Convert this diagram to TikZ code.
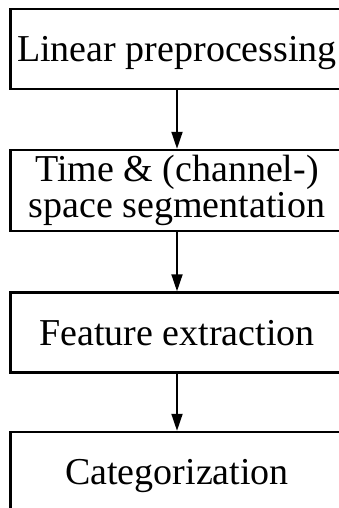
\documentclass[tikz,border=0pt]{standalone}
\usepackage{fontspec}
\setmainfont{Liberation Serif}
\usetikzlibrary{arrows.meta}
\begin{document}
\begin{tikzpicture}[x=1pt,y=-1pt,
  box/.style={draw=black, line width=2.4pt, minimum width=333pt, minimum height=80pt,
    inner sep=0pt, font=\fontsize{38}{36}\selectfont, text height=25pt, text depth=0pt, align=center},
  flow/.style={line width=1.8pt, -{Triangle[length=17pt,width=11pt]}}]
\useasboundingbox (0,0) rectangle (339,508);
\clip (0,0) rectangle (339,508);
\node[box] (b1) at (177,49) {Linear preprocessing};
\node[box, minimum height=81pt, text height=61pt, text depth=8pt] (b2) at (177,190.5) {Time \& (channel-)\\space segmentation};
\node[box] (b3) at (177,332.5) {Feature extraction};
\node[box] (b4) at (177,472) {Categorization};
\draw[flow] (b1.south) -- (b2.north);
\draw[flow] (b2.south) -- (b3.north);
\draw[flow] (b3.south) -- (b4.north);
\end{tikzpicture}
\end{document}
